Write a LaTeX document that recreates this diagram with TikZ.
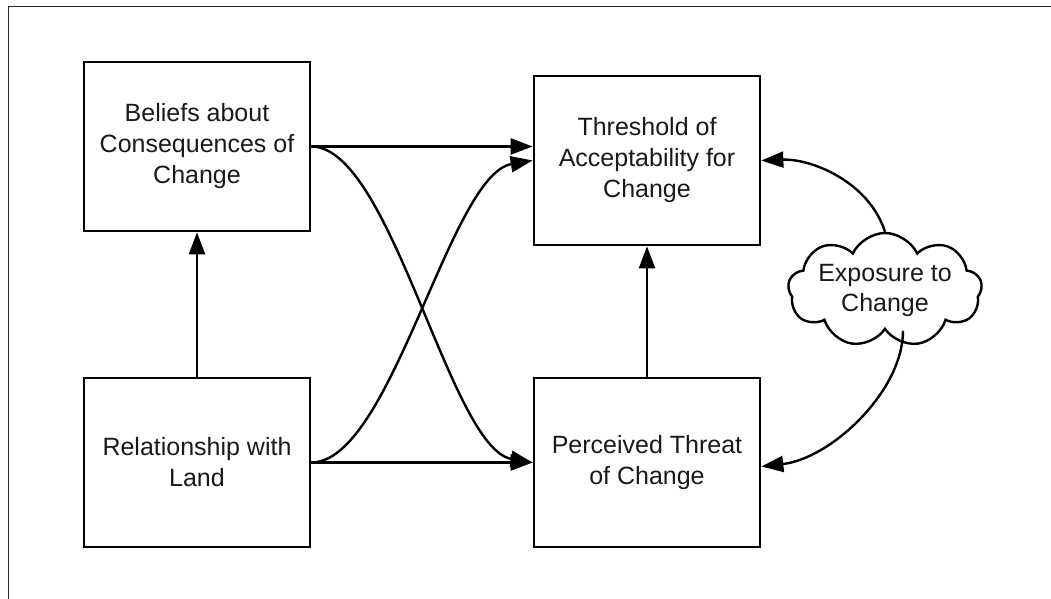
\documentclass[tikz,border=0pt]{standalone}
\usepackage{fontspec}
\setmainfont{Liberation Sans}
\usetikzlibrary{arrows.meta,shapes.symbols,calc}
\tikzset{
  box/.style={draw=black, line width=2.7pt, minimum width=226pt, minimum height=169pt,
    inner sep=0pt, align=center, font=\fontsize{25}{31}\selectfont, text=black!90},
  cloudbox/.style={cloud, cloud puffs=9, cloud puff arc=130, cloud ignores aspect, draw=black, line width=2.4pt,
    minimum width=194pt, minimum height=114pt, inner sep=0pt, align=center,
    font=\fontsize{25}{30}\selectfont, text=black!90},
  conn/.style={line width=2.4pt, -{Triangle[length=22pt,width=16pt]}},
  frameline/.style={line width=1.8pt, draw=black!85}
}
\begin{document}
\begin{tikzpicture}[x=1pt,y=-1pt]
\useasboundingbox (0,0) rectangle (1051,599);
\draw[frameline] (8.5,600) -- (8.5,6.5) -- (1052,6.5);

\node[box] (bel) at (197,146.5) {Beliefs about\\Consequences of\\Change};
\node[box] (rel) at (197,462.5) {Relationship with\\Land};
\node[box] (thr) at (647,160.5) {Threshold of\\Acceptability for\\Change};
\node[box] (per) at (647,462.5) {Perceived Threat\\of Change};
\node[cloudbox] (exp) at (885,290) {Exposure to\\Change};

\draw[conn] (rel.north) -- (bel.south);
\draw[conn] (per.north) -- (thr.south);
\draw[conn] (bel.east) -- (thr.west |- bel.east);
\draw[conn] (rel.east) -- (per.west);
\draw[conn] (bel.east) .. controls ($(bel.east)+(80,0)$) and ($(per.west)+(-83,-14)$) .. (per.west);
\draw[conn] (rel.east) .. controls ($(rel.east)+(80,0)$) and ($(thr.west)+(-83,14)$) .. (thr.west);
\draw[conn] (exp.north) .. controls ($(exp.north)+(-16,-50)$) and ($(thr.east)+(50,-2)$) .. (thr.east);
\draw[conn] ([xshift=18pt]exp.south) .. controls ($([xshift=18pt]exp.south)+(0,60)$) and ($([yshift=-4pt]per.east)+(70,-8)$) .. ([yshift=-4pt]per.east);
\end{tikzpicture}
\end{document}
